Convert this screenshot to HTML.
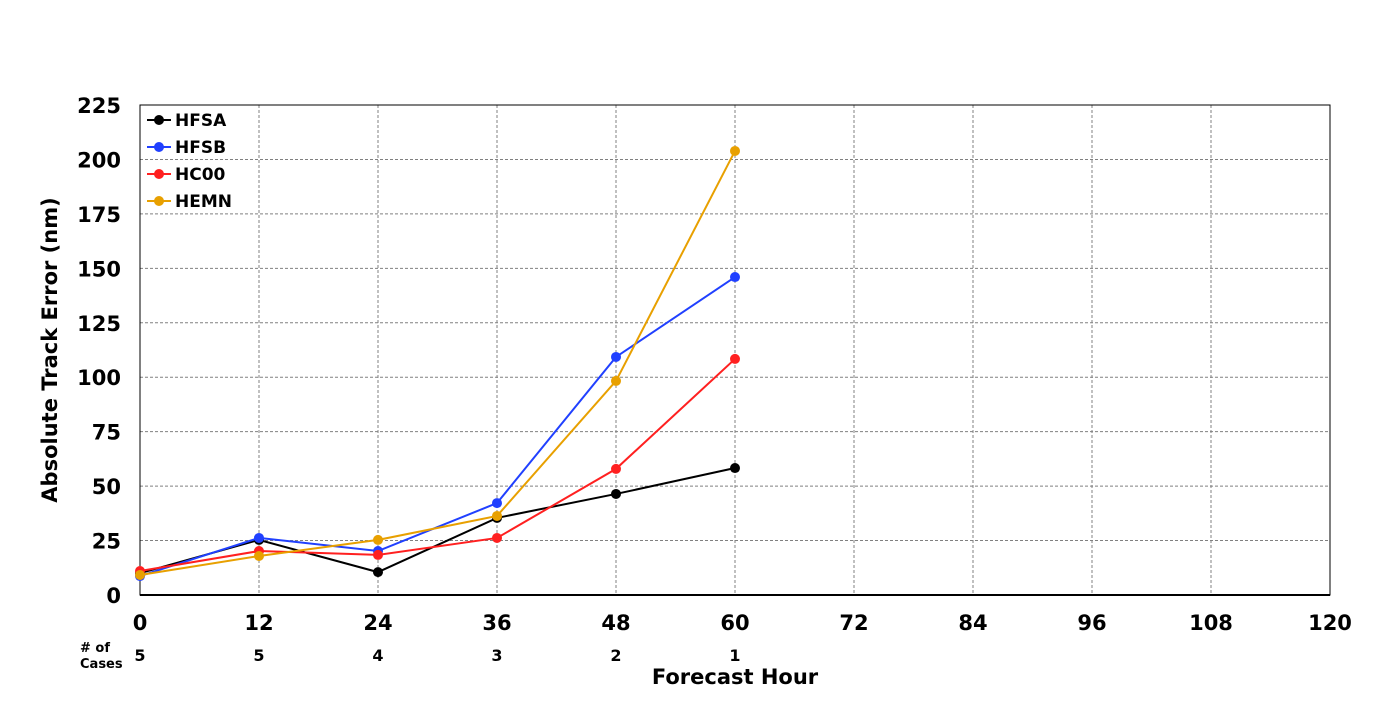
<!DOCTYPE html>
<html><head><meta charset="utf-8"><style>
body{margin:0;background:#fff;font-family:"DejaVu Sans","Liberation Sans",sans-serif;}
svg text{font-family:"DejaVu Sans","Liberation Sans",sans-serif;font-weight:bold;}
</style></head><body>
<svg id="chart" width="1400" height="700" xmlns="http://www.w3.org/2000/svg"></svg>
<script>
const hours=[0,12,24,36,48,60];
const xTicks=[0,12,24,36,48,60,72,84,96,108,120];
const yTicks=[0,25,50,75,100,125,150,175,200,225];
const cases=[5,5,4,3,2,1];
const hfsa=[10,25.3,10.5,35.4,46.4,58.3];
const hfsb=[8.7,26.2,20.2,42.2,109.3,146];
const hc00=[11,20.2,18.4,26.2,57.9,108.4];
const hemn=[9.2,17.9,25.3,36.3,98.3,203.9];
const seriesNames=['HFSA','HFSB','HC00','HEMN'];
const seriesColors=['#000000','#2040ff','#ff2020','#e8a000'];
const seriesData=[hfsa,hfsb,hc00,hemn];

const svg=document.getElementById('chart');
const NS='http://www.w3.org/2000/svg';
const L=140,R=1330,T=105,B=595;
const xs=v=>L+(v-0)/(120-0)*(R-L);
const ys=v=>B-(v-0)/(225-0)*(B-T);
function mk(tag,attrs,parent){const e=document.createElementNS(NS,tag);for(const k in attrs)e.setAttribute(k,attrs[k]);(parent||svg).appendChild(e);return e;}

const grid=mk('g',{});


xTicks.forEach(t=>{if(t>0&&t<120){const l=mk('line',{x1:xs(t),x2:xs(t),y1:T,y2:B,stroke:'#808080','stroke-dasharray':'3,2','stroke-width':1},grid);

}});
yTicks.forEach(t=>{if(t>0&&t<225){const l=mk('line',{x1:L,x2:R,y1:ys(t),y2:ys(t),stroke:'#808080','stroke-dasharray':'3,2','stroke-width':1},grid);

}});
const frame=mk('rect',{x:L,y:T,width:R-L,height:B-T,fill:'none',stroke:'#000','stroke-width':1});


const xaxis=mk('line',{x1:L,x2:R,y1:B,y2:B,stroke:'#000','stroke-width':2});



xTicks.forEach(t=>{const e=mk('text',{x:xs(t),y:630,'text-anchor':'middle','font-size':21});e.textContent=t;

});
yTicks.forEach(t=>{const e=mk('text',{x:121,y:ys(t)+8,'text-anchor':'end','font-size':21});e.textContent=t;

});
hours.forEach((h,i)=>{const e=mk('text',{x:xs(h),y:661,'text-anchor':'middle','font-size':16});e.textContent=cases[i];

});
const c1=mk('text',{x:80,y:652,'font-size':13});c1.textContent='# of';


const c2=mk('text',{x:80,y:668,'font-size':13});c2.textContent='Cases';


const xt=mk('text',{x:735,y:684,'text-anchor':'middle','font-size':21});xt.textContent='Forecast Hour';


const yt=mk('text',{x:57,y:350,'text-anchor':'middle','font-size':21,transform:'rotate(-90 57 350)'});yt.textContent='Absolute Track Error (nm)';



seriesData.forEach((d,si)=>{
  const g=mk('g',{});
  
  
  const pts=d.map((v,i)=>xs(hours[i])+','+ys(v)).join(' ');
  const pl=mk('polyline',{points:pts,fill:'none',stroke:seriesColors[si],'stroke-width':2},g);
  
  
  d.forEach((v,i)=>{const c=mk('circle',{cx:xs(hours[i]),cy:ys(v),r:5,fill:seriesColors[si]},g);
  
  });
  const ly=120+si*27;
  const lg=mk('g',{});
  
  
  mk('line',{x1:147,x2:171,y1:ly,y2:ly,stroke:seriesColors[si],'stroke-width':2},lg);
  mk('circle',{cx:159,cy:ly,r:5,fill:seriesColors[si]},lg);
  const lt=mk('text',{x:175,y:ly+6,'font-size':17},lg);lt.textContent=seriesNames[si];
});
</script>
</body></html>
